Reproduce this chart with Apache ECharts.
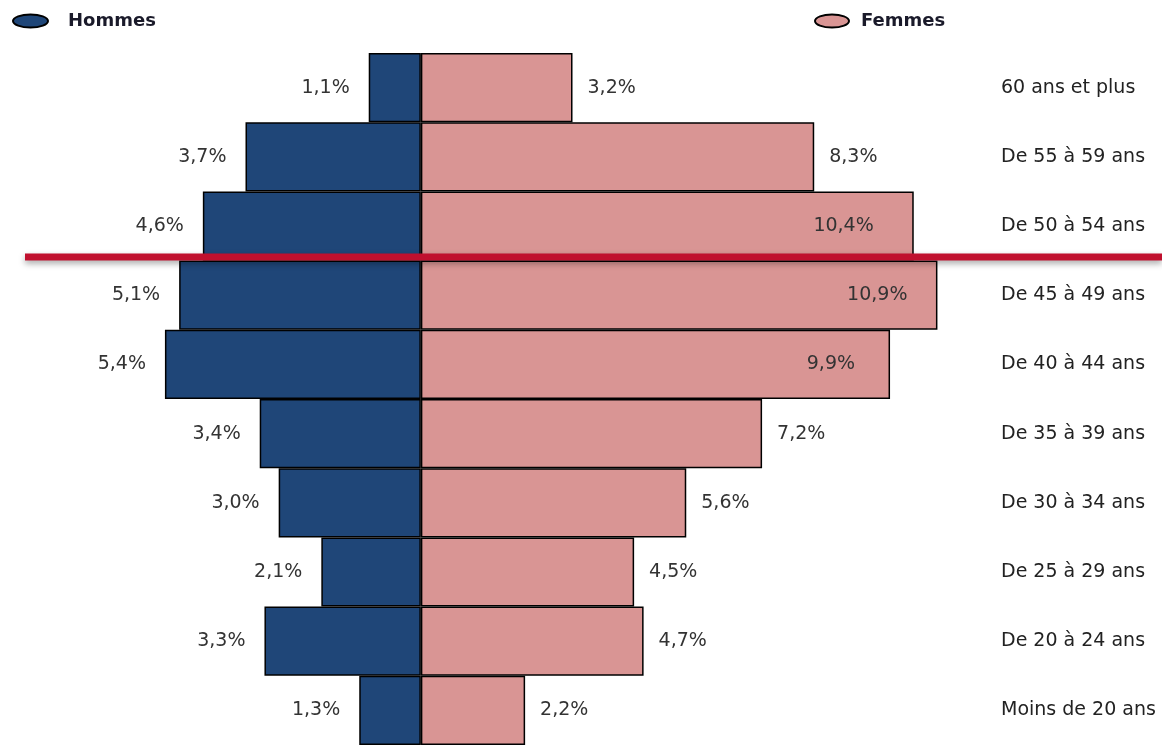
<!DOCTYPE html>
<html>
<head>
<meta charset="utf-8">
<script src="https://cdn.jsdelivr.net/npm/echarts@6/dist/echarts.min.js"></script>
<style>
    html, body { margin: 0; padding: 0; background: #fff; }
    #chart { width: 1162px; height: 745px; }
</style>
</head>
<body>
<div id="chart"></div>
<script>
    // tranches d'âge, de haut en bas
    var categories = ['60 ans et plus', 'De 55 à 59 ans', 'De 50 à 54 ans', 'De 45 à 49 ans',
        'De 40 à 44 ans', 'De 35 à 39 ans', 'De 30 à 34 ans', 'De 25 à 29 ans',
        'De 20 à 24 ans', 'Moins de 20 ans']
    var hommes = [1.1, 3.7, 4.6, 5.1, 5.4, 3.4, 3.0, 2.1, 3.3, 1.3]
    var femmes = [3.2, 8.3, 10.4, 10.9, 9.9, 7.2, 5.6, 4.5, 4.7, 2.2]

    var fmt = function (v) {
        return Math.abs(v).toFixed(1).replace('.', ',') + '%'
    }
    var labelFont = {fontFamily: 'DejaVu Sans', fontSize: 19, color: '#333'}

    var hommesData = hommes.map(function (v) { return -v })
    // les grandes barres femmes ont leur étiquette à l'intérieur
    var insideDist = {2: 40, 3: 30, 4: 35}
    var femmesData = femmes.map(function (v, i) {
        if (insideDist[i] === undefined) return v
        return {value: v, label: {position: 'insideRight', distance: insideDist[i]}}
    })

    var legendText = {fontFamily: 'DejaVu Sans', fontSize: 18, fontWeight: 'bold', color: '#1a1a2a'}
    var ellipse = 'path://M0,50 A50,50 0 1,1 100,50 A50,50 0 1,1 0,50 Z'

    var myChart = echarts.init(document.getElementById('chart'))
    myChart.setOption({
        animation: false,
        legend: [
            {
                data: ['Hommes'], left: 7, top: 7,
                itemWidth: 35, itemHeight: 13, icon: ellipse, symbolKeepAspect: false,
                textStyle: Object.assign({padding: [0, 0, 0, 15]}, legendText)
            },
            {
                data: ['Femmes'], left: 809, top: 7,
                itemWidth: 34, itemHeight: 13, icon: ellipse, symbolKeepAspect: false,
                textStyle: Object.assign({padding: [0, 0, 0, 7]}, legendText)
            }
        ],
        grid: {left: 0, right: 162, top: 53, height: 692},
        xAxis: {
            type: 'value', min: -8.88, max: 12.22, show: false
        },
        yAxis: {
            type: 'category', data: categories, inverse: true, position: 'right',
            axisLine: {show: false}, axisTick: {show: false},
            axisLabel: {margin: 1, align: 'left', fontFamily: 'DejaVu Sans', fontSize: 19, color: '#222'}
        },
        series: [
            {
                name: 'Hommes', type: 'bar', stack: 'pyr', barCategoryGap: '0%',
                data: hommesData,
                itemStyle: {color: '#1f4678', borderColor: '#000', borderWidth: 1.5},
                label: Object.assign({show: true, position: 'left', distance: 19,
                    formatter: function (p) { return fmt(p.value) }}, labelFont)
            },
            {
                name: 'Femmes', type: 'bar', stack: 'pyr', barCategoryGap: '0%',
                data: femmesData,
                itemStyle: {color: '#d99594', borderColor: '#000', borderWidth: 1.5},
                label: Object.assign({show: true, position: 'right', distance: 15,
                    formatter: function (p) { return fmt(p.value) }}, labelFont)
            }
        ],
        graphic: [{
            type: 'line', z: 100,
            shape: {x1: 25, y1: 257, x2: 1162, y2: 257},
            style: {stroke: '#c0102e', lineWidth: 7, shadowBlur: 6, shadowColor: 'rgba(0,0,0,0.35)', shadowOffsetY: 3}
        }]
    })
</script>
</body>
</html>
